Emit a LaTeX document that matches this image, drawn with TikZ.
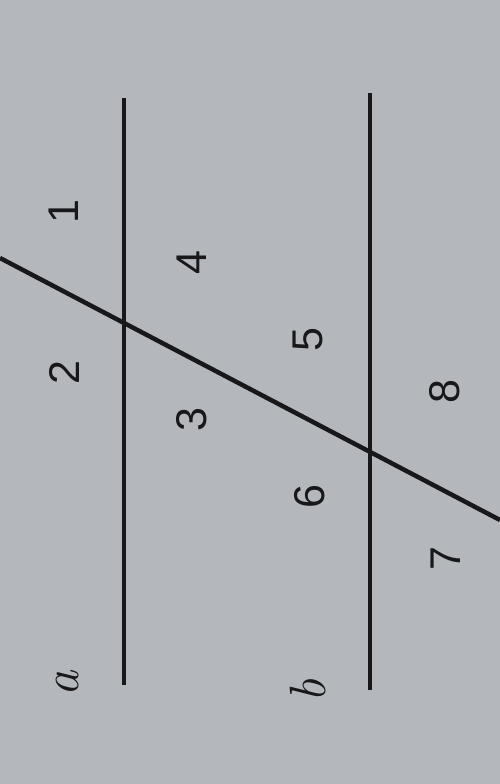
\documentclass[tikz,border=0pt]{standalone}
\usepackage{fontspec}
\newfontfamily\digitfont{Liberation Sans}
\definecolor{paper}{RGB}{180,183,187}
\definecolor{ink}{RGB}{24,24,26}
\begin{document}
\begin{tikzpicture}[x=1pt,y=-1pt,
  line/.style={draw=ink, line width=4.5pt},
  num/.style={text=ink, rotate=90, inner sep=0pt, font=\digitfont\fontsize{43}{50}\selectfont},
  letter/.style={text=ink, rotate=90, inner sep=0pt, font=\fontsize{51}{60}\selectfont\itshape}]
\fill[paper] (0,0) rectangle (500,784);
\useasboundingbox (0,0) rectangle (500,784);
\coordinate (a1) at (124,98);
\coordinate (a2) at (124,685);
\coordinate (b1) at (370,93);
\coordinate (b2) at (370,690);
\coordinate (t1) at (0,258);
\coordinate (t2) at (500,520);
\draw[line] (a1) -- (a2);
\draw[line] (b1) -- (b2);
\draw[line] (t1) -- (t2);
\node[letter] (la) at (68,684) {a};
\node[letter] (lb) at (308,691) {b};
\node[num] (n1) at (64,212) {1};
\node[num] (n2) at (64,373) {2};
\node[num] (n3) at (192,420) {3};
\node[num] (n4) at (192,263) {4};
\node[num] (n5) at (308,340) {5};
\node[num] (n6) at (310,497) {6};
\node[num] (n7) at (446,559) {7};
\node[num] (n8) at (445,392) {8};
\end{tikzpicture}
\end{document}
